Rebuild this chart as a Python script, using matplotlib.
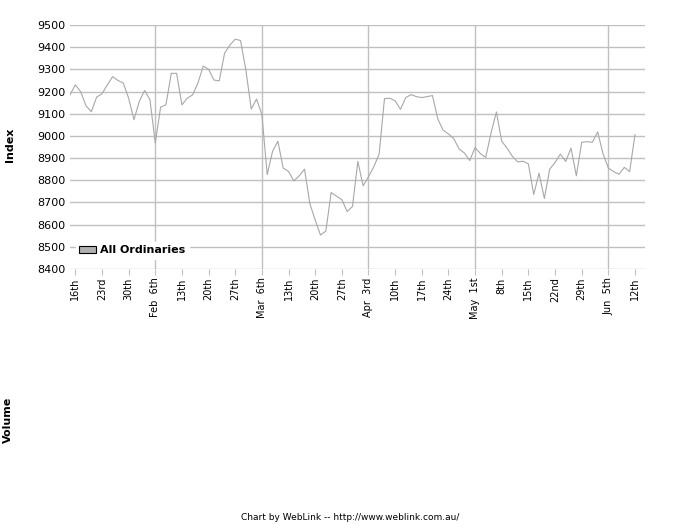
import numpy as np
import matplotlib
matplotlib.use("Agg")
import matplotlib.pyplot as plt
from matplotlib.patches import Patch

# All Ordinaries closing values, one per trading day
values = [9185, 9230, 9200, 9136, 9109, 9175, 9190, 9230, 9267, 9250,
          9238, 9170, 9073, 9155, 9205, 9163, 8968, 9130, 9140, 9282,
          9282, 9140, 9170, 9185, 9238, 9315, 9300, 9252, 9248, 9373,
          9410, 9436, 9430, 9297, 9121, 9166, 9096, 8826, 8930, 8976,
          8855, 8840, 8797, 8820, 8850, 8695, 8621, 8553, 8571, 8745,
          8728, 8713, 8659, 8682, 8885, 8775, 8816, 8861, 8918, 9168,
          9170, 9158, 9120, 9173, 9186, 9177, 9173, 9177, 9182, 9077,
          9026, 9009, 8988, 8941, 8923, 8889, 8948, 8920, 8903, 9014,
          9108, 8976, 8945, 8908, 8883, 8886, 8874, 8736, 8832, 8718,
          8850, 8880, 8918, 8885, 8945, 8820, 8971, 8974, 8971, 9018,
          8920, 8855, 8839, 8827, 8858, 8839, 9006]

tick_labels = ["16th", "23rd", "30th", "Feb  6th", "13th", "20th", "27th",
               "Mar  6th", "13th", "20th", "27th", "Apr  3rd", "10th", "17th",
               "24th", "May  1st", "8th", "15th", "22nd", "29th", "Jun  5th",
               "12th"]
first_tick = 1   # trading day of the first weekly label
week = 5

y_ticks = list(range(8400, 9501, 100))

grid_c = "#c0c0c0"
line_c = "#a8a8a8"

fig = plt.figure(figsize=(7, 5.25), dpi=100)
ax = fig.add_axes([70/700, 1-269/525, 575/700, 244/525])

x = np.arange(len(values))
ax.plot(x, values, color=line_c, lw=0.8, zorder=3)

tick_pos = [first_tick + week*i for i in range(len(tick_labels))]
ax.set_xlim(0, 575/5.33)
ax.set_ylim(8400, 9500)

ax.set_yticks(y_ticks)
ax.set_yticklabels([str(v) for v in y_ticks], fontsize=8)
ax.set_xticks(tick_pos)
ax.set_xticklabels(tick_labels, rotation=90, fontsize=7, va="top", ha="center")

for v in y_ticks:
    ax.axhline(v, color=grid_c, lw=1, zorder=1)
for p, lab in zip(tick_pos, tick_labels):
    if " " in lab:
        ax.axvline(p, color=grid_c, lw=1, zorder=1)

for s in ax.spines.values():
    s.set_visible(False)
ax.tick_params(axis="y", length=0, pad=3)
ax.tick_params(axis="x", length=4, color=grid_c, pad=2)

leg = ax.legend(handles=[Patch(facecolor="#b0b0b0", edgecolor="black", lw=0.8)],
                labels=["All Ordinaries"], loc="lower left",
                bbox_to_anchor=(0.0, 0.02), frameon=True, fancybox=False,
                handlelength=1.5, handleheight=0.6, handletextpad=0.4,
                borderpad=0.3, prop={"weight": "bold", "size": 8})
leg.get_frame().set_edgecolor("white")
leg.get_frame().set_facecolor("white")
leg.get_frame().set_alpha(1)
leg.set_zorder(5)

fig.text(10/700, 1-145/525, "Index", rotation=90, fontsize=8, fontweight="bold",
         ha="center", va="center")
fig.text(8/700, 1-420/525, "Volume", rotation=90, fontsize=8, fontweight="bold",
         ha="center", va="center")
fig.text(350/700, 1-518/525, "Chart by WebLink -- http://www.weblink.com.au/",
         fontsize=6.5, ha="center", va="center")

fig.savefig("out.png", dpi=100)
